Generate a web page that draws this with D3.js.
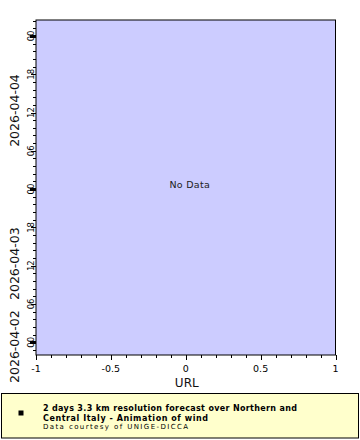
<!DOCTYPE html>
<html><head><meta charset="utf-8">
<script src="https://cdn.jsdelivr.net/npm/d3@7"></script>
<style>body{margin:0;background:#fff}svg{display:block}text{font-family:"DejaVu Sans",sans-serif}</style>
</head><body><div id="chart"></div>
<script>
// ---- data ----
const xDomain = [-1, 1];
const xMajorTicks = [-1, -0.5, 0, 0.5, 1];
const xTickLabels = ["-1", "-0.5", "0", "0.5", "1"];
const xAxisTitle = "URL";
const timeDomain = ["2026-04-02T22:00:00Z", "2026-04-05T02:30:00Z"];
const dayStarts = ["2026-04-03T00:00:00Z", "2026-04-04T00:00:00Z", "2026-04-05T00:00:00Z"];
const dayLabels = ["2026-04-02", "2026-04-03", "2026-04-04"];
const hourTickLabels = ["00", "06", "12", "18"];
const seriesValues = [];           // no data available
const noDataText = "No Data";
const legendTitle = ["2 days 3.3 km resolution forecast over Northern and", "Central Italy - Animation of wind"];
const legendNote = "Data courtesy of UNIGE-DICCA";

// ---- layout ----
const W = 360, H = 440;
const plot = {left: 36, right: 335.5, top: 20, bottom: 355};

const svg = d3.select("#chart").append("svg").attr("width", W).attr("height", H);

const x = d3.scaleLinear().domain(xDomain).range([plot.left, plot.right]);
const tParse = s => new Date(s);
const y = d3.scaleUtc().domain(timeDomain.map(tParse)).range([plot.bottom, plot.top]);

// plot background
svg.append("rect").attr("x", plot.left).attr("y", plot.top)
  .attr("width", plot.right - plot.left).attr("height", plot.bottom - plot.top)
  .attr("fill", "#ccccff").attr("stroke", "#000").attr("stroke-width", 1);

// series (empty)
svg.append("g").selectAll("circle").data(seriesValues).join("circle")
  .attr("cx", d => x(d.x)).attr("cy", d => y(tParse(d.t))).attr("r", 2);

if (seriesValues.length === 0) {
  svg.append("text").attr("x", x(0) + 4).attr("y", 188)
    .attr("text-anchor", "middle").attr("font-size", 9.5).attr("fill", "#222")
    .attr("letter-spacing", 0.3).text(noDataText);
}

// x axis
const xMinor = d3.range(-10, 11).map(i => i / 10).filter(v => !xMajorTicks.some(m => Math.abs(m - v) < 1e-9));
const xa = svg.append("g");
xa.selectAll("line.minor").data(xMinor).join("line").attr("class", "minor")
  .attr("x1", d => Math.round(x(d)) + 0.5).attr("x2", d => Math.round(x(d)) + 0.5)
  .attr("y1", plot.bottom).attr("y2", plot.bottom + 3).attr("stroke", "#000");
xa.selectAll("line.major").data(xMajorTicks).join("line").attr("class", "major")
  .attr("x1", d => Math.round(x(d)) + 0.5).attr("x2", d => Math.round(x(d)) + 0.5)
  .attr("y1", plot.bottom).attr("y2", plot.bottom + 5).attr("stroke", "#000");
xa.selectAll("text").data(xMajorTicks).join("text")
  .attr("x", d => x(d)).attr("y", 372).attr("text-anchor", "middle")
  .attr("font-size", 9.5).attr("fill", "#000")
  .text((d, i) => xTickLabels[i]);
svg.append("text").attr("x", x(0) + 1).attr("y", 387).attr("text-anchor", "middle")
  .attr("font-size", 12).attr("fill", "#111").text(xAxisTitle);

// y axis (time)
const [t0, t1] = y.domain();
const step = 72 * 60 * 1000;
const base = Date.UTC(2026, 3, 2, 0, 0);
const minorTimes = d3.range(base, +t1 + 1, step).filter(t => t >= +t0);
const sixTimes = d3.utcHour.every(6).range(t0, t1);
const ya = svg.append("g");
ya.selectAll("line.minor").data(minorTimes).join("line")
  .attr("x1", plot.left - 3).attr("x2", plot.left)
  .attr("y1", d => Math.round(y(new Date(d))) + 0.5).attr("y2", d => Math.round(y(new Date(d))) + 0.5)
  .attr("stroke", "#000");
ya.selectAll("text.hour").data(sixTimes).join("text").attr("class", "hour")
  .attr("transform", d => `translate(33.5,${y(d)}) rotate(-90)`)
  .attr("text-anchor", "middle").attr("font-size", 8.5).attr("fill", "#000")
  .text(d => hourTickLabels[d.getUTCHours() / 6]);
ya.selectAll("line.six").data(sixTimes).join("line")
  .attr("x1", d => d.getUTCHours() === 0 ? plot.left - 6 : plot.left - 5).attr("x2", plot.left)
  .attr("y1", d => Math.round(y(d)) + 0.5).attr("y2", d => Math.round(y(d)) + 0.5)
  .attr("stroke", "#000").attr("stroke-width", d => d.getUTCHours() === 0 ? 3 : 1);

// date labels centred on visible part of each day
const dayStartDates = dayStarts.map(tParse);
const segs = dayLabels.map((lab, i) => {
  const s = i === 0 ? t0 : dayStartDates[i - 1];
  const e = dayStartDates[i] < t1 ? dayStartDates[i] : t1;
  return {lab, mid: (y(s) + y(e)) / 2};
});
ya.selectAll("text.day").data(segs).join("text").attr("class", "day")
  .attr("transform", d => `translate(18.5,${d.mid - 2}) rotate(-90)`)
  .attr("text-anchor", "middle").attr("font-size", 12.5).attr("fill", "#111")
  .text(d => d.lab);

// legend
const lg = svg.append("g");
lg.append("rect").attr("x", 1.5).attr("y", 393.5).attr("width", 357).attr("height", 44.5)
  .attr("fill", "#ffffcc").attr("stroke", "#000").attr("stroke-width", 1);
lg.append("rect").attr("x", 18.5).attr("y", 410.5).attr("width", 5).attr("height", 5).attr("fill", "#000");
const lineW = [254, 165];
legendTitle.forEach((t, i) => {
  lg.append("text").attr("x", 43).attr("y", 410.5 + i * 10.5)
    .attr("font-size", 8).attr("font-weight", "bold").attr("fill", "#000")
    .attr("textLength", lineW[i]).attr("lengthAdjust", "spacing").text(t);
});
lg.append("text").attr("x", 43).attr("y", 429).attr("font-size", 7).attr("fill", "#000")
  .attr("textLength", 145).attr("lengthAdjust", "spacing").text(legendNote);
</script></body></html>
